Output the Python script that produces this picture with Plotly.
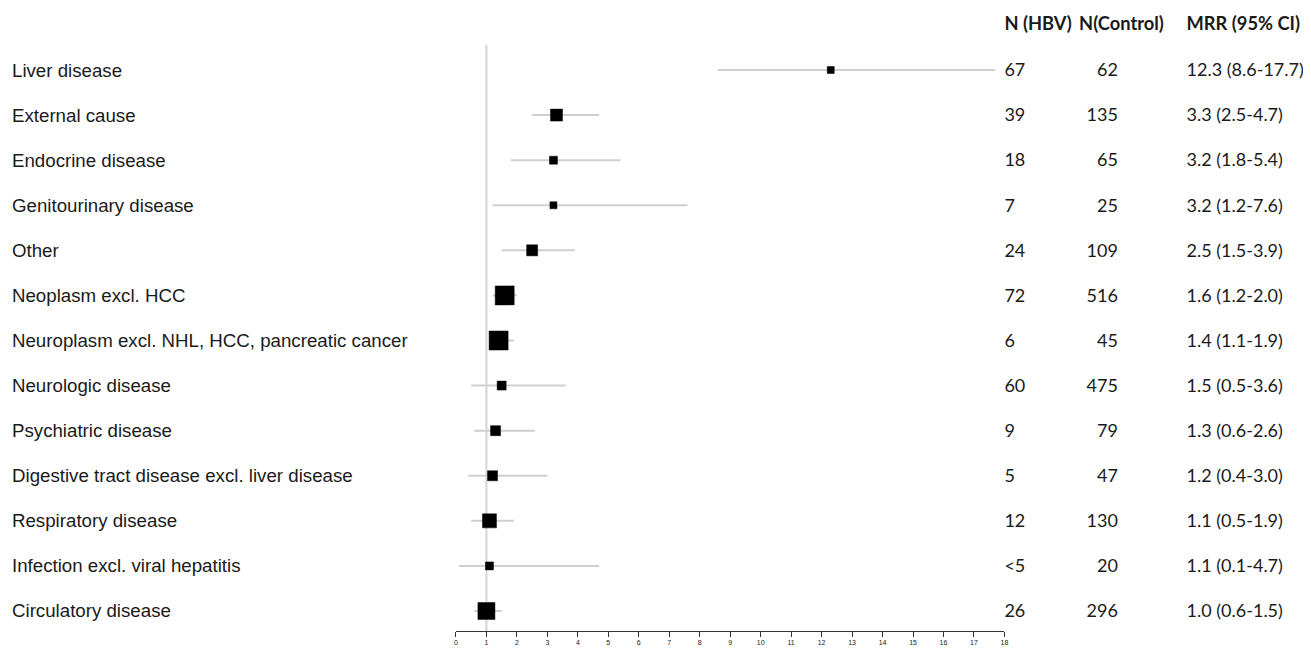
import plotly.graph_objects as go

categories = [
    "Liver disease", "External cause", "Endocrine disease", "Genitourinary disease",
    "Other", "Neoplasm excl. HCC", "Neuroplasm excl. NHL, HCC, pancreatic cancer",
    "Neurologic disease", "Psychiatric disease", "Digestive tract disease excl. liver disease",
    "Respiratory disease", "Infection excl. viral hepatitis", "Circulatory disease",
]
mrr = [12.3, 3.3, 3.2, 3.2, 2.5, 1.6, 1.4, 1.5, 1.3, 1.2, 1.1, 1.1, 1.0]
ci_low = [8.6, 2.5, 1.8, 1.2, 1.5, 1.2, 1.1, 0.5, 0.6, 0.4, 0.5, 0.1, 0.6]
ci_high = [17.7, 4.7, 5.4, 7.6, 3.9, 2.0, 1.9, 3.6, 2.6, 3.0, 1.9, 4.7, 1.5]
n_hbv = ["67", "39", "18", "7", "24", "72", "6", "60", "9", "5", "12", "<5", "26"]
n_control = ["62", "135", "65", "25", "109", "516", "45", "475", "79", "47", "130", "20", "296"]
mrr_text = ["12.3 (8.6-17.7)", "3.3 (2.5-4.7)", "3.2 (1.8-5.4)", "3.2 (1.2-7.6)",
            "2.5 (1.5-3.9)", "1.6 (1.2-2.0)", "1.4 (1.1-1.9)", "1.5 (0.5-3.6)",
            "1.3 (0.6-2.6)", "1.2 (0.4-3.0)", "1.1 (0.5-1.9)", "1.1 (0.1-4.7)",
            "1.0 (0.6-1.5)"]
headers = ["<b>N (HBV)</b>", "<b>N(Control)</b>", "<b>MRR (95% CI)</b>"]
x_ticks = list(range(0, 19))

# style: marker pixel sizes (weights)
marker_px = [7, 12, 8, 7, 11, 19, 19, 9, 10, 10, 14, 8, 17]

W, H = 1311, 657
PX0, PX1 = 448, 999  # plot area in figure pixels
n = len(categories)
yv = [n - 1 - i for i in range(n)]  # top row highest
header_y = 13.0

fig = go.Figure()

# CI lines
cx, cy = [], []
for i in range(n):
    cx += [ci_low[i], ci_high[i], None]
    cy += [yv[i], yv[i], None]
fig.add_trace(go.Scatter(x=cx, y=cy, mode="lines",
                         line=dict(color="#cfcfcf", width=2),
                         hoverinfo="skip", showlegend=False))

# Reference line at 1
fig.add_shape(type="line", x0=1, x1=1, y0=-0.444, y1=12.556, xref="x", yref="y",
              line=dict(color="#d4d4d4", width=2), layer="below")

# Point estimates
fig.add_trace(go.Scatter(x=mrr, y=yv, mode="markers",
                         marker=dict(symbol="square", size=marker_px, color="#000000",
                                     opacity=1, line=dict(width=0.5, color="#000000")),
                         showlegend=False))

label_font = dict(family="Liberation Sans, Arial, sans-serif", size=18.7, color="#1a1a1a")
num_font = dict(family="Lato, Carlito, sans-serif", size=18, color="#1a1a1a")
head_font = dict(family="Lato, Carlito, sans-serif", size=18.3, color="#1a1a1a")


def text_col(xpix, ys, texts, pos, font):
    fig.add_trace(go.Scatter(x=[xpix] * len(texts), y=ys, text=texts, mode="text",
                             textposition=pos, textfont=font, xaxis="x2", yaxis="y",
                             cliponaxis=False, hoverinfo="skip", showlegend=False))


text_col(2, [v - 0.04 for v in yv], categories, "middle right", label_font)
num_y = [v - 0.04 for v in yv]
text_col(999, num_y, n_hbv, "middle right", num_font)
text_col(1113, num_y, n_control, "middle left", num_font)
text_col(1182, num_y, mrr_text, "middle right", num_font)
fig.add_trace(go.Scatter(x=[999, 1074, 1182], y=[header_y] * 3, text=headers, mode="text",
                         textposition="middle right", textfont=head_font, xaxis="x2",
                         yaxis="y", cliponaxis=False, hoverinfo="skip", showlegend=False))

fig.update_layout(
    width=W, height=H,
    margin=dict(l=0, r=0, t=0, b=0),
    plot_bgcolor="rgba(0,0,0,0)", paper_bgcolor="white",
    xaxis=dict(domain=[PX0 / W, PX1 / W], range=[0, 18], tickvals=x_ticks,
               ticktext=[str(t) for t in x_ticks],
               showline=True, linecolor="#333333", linewidth=1,
               ticks="outside", ticklen=5, tickcolor="#333333",
               tickfont=dict(size=7, family="Liberation Sans, Arial", color="#222"),
               showgrid=False, zeroline=False, anchor="free", position=34 / H),
    xaxis2=dict(domain=[0, 1], range=[0, W], visible=False,
                anchor="y", showgrid=False, zeroline=False),
    yaxis=dict(domain=[0, 1], range=[-1.198, 13.376], visible=False,
               showgrid=False, zeroline=False),
)

fig.write_html("out.html")
